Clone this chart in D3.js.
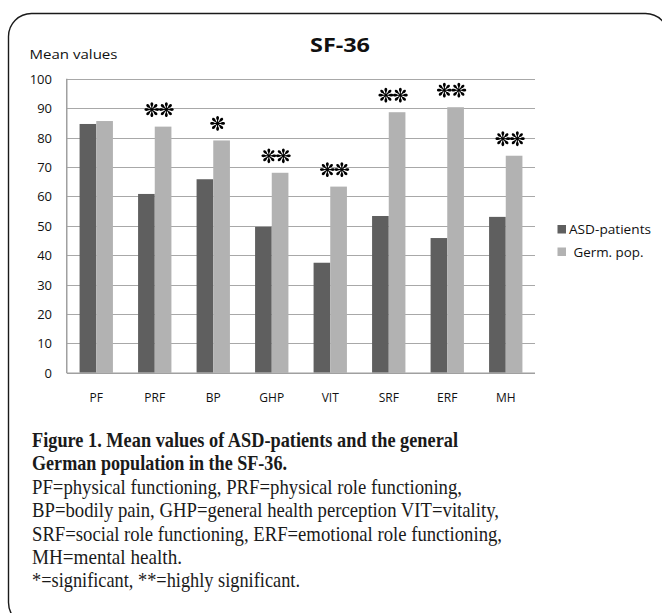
<!DOCTYPE html>
<html>
<head>
<meta charset="utf-8">
<script src="https://cdn.jsdelivr.net/npm/d3@7"></script>
<style>
  body { margin: 0; background: #fff; }
  svg { display: block; }
</style>
</head>
<body>
<svg id="chart" width="662" height="613"></svg>
<script>
// SF-36 subscales and mean scores
const categories = ["PF", "PRF", "BP", "GHP", "VIT", "SRF", "ERF", "MH"];
const asdPatients = [84.6, 60.8, 65.8, 49.6, 37.4, 53.3, 45.8, 53.0];
const germanPopulation = [85.6, 83.7, 79.0, 68.0, 63.3, 88.6, 90.3, 73.8];
// number of asterisks: 1 = significant, 2 = highly significant
const significance = [0, 2, 1, 2, 2, 2, 2, 2];
const seriesNames = ["ASD-patients", "Germ. pop."];
const yTicks = [0, 10, 20, 30, 40, 50, 60, 70, 80, 90, 100];

const captionBold = [
  "Figure 1. Mean values of ASD-patients and the general",
  "German population in the SF-36."
];
const captionBody = [
  "PF=physical functioning, PRF=physical role functioning,",
  "BP=bodily pain, GHP=general health perception VIT=vitality,",
  "SRF=social role functioning, ERF=emotional role functioning,",
  "MH=mental health.",
  "*=significant, **=highly significant."
];

const svg = d3.select("#chart");
const colors = ["#5f5f5f", "#b2b2b2"];
const sans = "'Open Sans', sans-serif";

// rounded frame around the figure
svg.append("rect")
  .attr("x", 8.5).attr("y", 13.5)
  .attr("width", 660).attr("height", 612)
  .attr("rx", 23).attr("ry", 23)
  .attr("fill", "none")
  .attr("stroke", "#1a1a1a")
  .attr("stroke-width", 1.4);

// plot area
const plot = { left: 67, right: 535, top: 78.7, bottom: 372.7 };

const x = d3.scaleBand()
  .domain(categories)
  .range([plot.left, plot.right])
  .paddingInner(0.43)
  .paddingOuter(0.215);

const xSub = d3.scaleBand()
  .domain(d3.range(seriesNames.length))
  .range([0, x.bandwidth()]);

const y = d3.scaleLinear()
  .domain([0, 100])
  .range([plot.bottom, plot.top]);

// horizontal gridlines
svg.append("g")
  .selectAll("line")
  .data(yTicks.filter(d => d > 0))
  .join("line")
  .attr("x1", plot.left).attr("x2", plot.right)
  .attr("y1", d => Math.round(y(d)) + 0.5)
  .attr("y2", d => Math.round(y(d)) + 0.5)
  .attr("stroke", "#a8a8a8")
  .attr("stroke-width", 1.2);

// y axis labels
const yAxis = d3.axisLeft(y).tickValues(yTicks).tickSize(0).tickPadding(0);
const yg = svg.append("g")
  .attr("transform", `translate(${plot.left - 15},0)`)
  .call(yAxis);
yg.select(".domain").remove();
yg.selectAll("text")
  .attr("font-family", sans)
  .attr("font-size", 13)
  .attr("fill", "#111")
  .attr("dy", "0.35em");

// bars
const rows = categories.map((c, i) => ({
  cat: c,
  values: [asdPatients[i], germanPopulation[i]],
  sig: significance[i]
}));

const groups = svg.append("g")
  .selectAll("g")
  .data(rows)
  .join("g")
  .attr("transform", d => `translate(${x(d.cat)},0)`);

groups.selectAll("rect")
  .data(d => d.values.map((v, k) => ({ v, k })))
  .join("rect")
  .attr("x", d => xSub(d.k))
  .attr("y", d => y(d.v))
  .attr("width", xSub.bandwidth())
  .attr("height", d => y(0) - y(d.v))
  .attr("fill", d => colors[d.k]);

// axis lines
svg.append("line")
  .attr("x1", plot.left).attr("x2", plot.right)
  .attr("y1", plot.bottom + 0.5).attr("y2", plot.bottom + 0.5)
  .attr("stroke", "#a0a0a0").attr("stroke-width", 1.5);
svg.append("line")
  .attr("x1", plot.left - 0.25).attr("x2", plot.left - 0.25)
  .attr("y1", plot.top).attr("y2", plot.bottom + 0.5)
  .attr("stroke", "#a0a0a0").attr("stroke-width", 1.5);

// category labels
const xAxis = d3.axisBottom(x).tickSize(0).tickPadding(0);
const xg = svg.append("g")
  .attr("transform", `translate(0,${plot.bottom + 29})`)
  .call(xAxis);
xg.select(".domain").remove();
xg.selectAll("text")
  .attr("font-family", sans)
  .attr("font-size", 12)
  .attr("fill", "#111")
  .attr("dy", 0);

// teardrop-spoked asterisk used for significance marks
function asterisk(g, cx, cy, r) {
  const s = g.append("g").attr("transform", `translate(${cx},${cy})`);
  for (let a = 0; a < 8; a++) {
    const ang = a * 45;
    const spoke = s.append("g").attr("transform", `rotate(${ang})`);
    spoke.append("line")
      .attr("x1", 0).attr("y1", 0).attr("x2", 0).attr("y2", -r * 0.6)
      .attr("stroke", "#000").attr("stroke-width", 1.1);
    spoke.append("path")
      .attr("d", `M0,${-r * 0.35} C${r * 0.28},${-r * 0.6} ${r * 0.22},${-r} 0,${-r} C${-r * 0.22},${-r} ${-r * 0.28},${-r * 0.6} 0,${-r * 0.35}Z`)
      .attr("fill", "#000");
  }
}

const marks = svg.append("g");
rows.forEach(d => {
  if (!d.sig) return;
  const barX = x(d.cat) + xSub(1) + xSub.bandwidth() / 2 - 4;
  const cy = y(d.values[1]) - 17;
  const r = 7.4;
  const step = 14.5;
  for (let k = 0; k < d.sig; k++) {
    const cx = barX + (k - (d.sig - 1) / 2) * step;
    asterisk(marks, cx, cy, r);
  }
});

// title and axis caption
svg.append("text")
  .attr("x", 310).attr("y", 51.5)
  .attr("font-family", sans)
  .attr("font-weight", 700)
  .attr("font-size", 20)
  .attr("textLength", 60)
  .attr("lengthAdjust", "spacingAndGlyphs")
  .attr("fill", "#111")
  .text("SF-36");

svg.append("text")
  .attr("x", 29.5).attr("y", 58.5)
  .attr("font-family", sans)
  .attr("font-size", 13)
  .attr("textLength", 88)
  .attr("lengthAdjust", "spacingAndGlyphs")
  .attr("fill", "#111")
  .text("Mean values");

// legend
const legend = svg.append("g");
const legendRows = [
  { y: 225, textX: 569, width: 82 },
  { y: 247.5, textX: 573.5, width: 70 }
];
seriesNames.forEach((name, i) => {
  const row = legendRows[i];
  legend.append("rect")
    .attr("x", 557.5).attr("y", row.y)
    .attr("width", 8.5).attr("height", 8.5)
    .attr("fill", colors[i]);
  legend.append("text")
    .attr("x", row.textX).attr("y", row.y + 9)
    .attr("font-family", sans)
    .attr("font-size", 12.5)
    .attr("textLength", row.width)
    .attr("lengthAdjust", "spacingAndGlyphs")
    .attr("fill", "#111")
    .text(name);
});

// figure caption
const serif = "'Liberation Serif', 'Times New Roman', serif";
const boldWidths = [426, 255];
const bodyWidths = [430, 467, 470, 150, 268];
captionBold.forEach((line, i) => {
  svg.append("text")
    .attr("x", 32).attr("y", 447 + i * 23.4)
    .attr("font-family", serif)
    .attr("font-weight", 700)
    .attr("font-size", 21.5)
    .attr("textLength", boldWidths[i])
    .attr("lengthAdjust", "spacingAndGlyphs")
    .attr("fill", "#1a1a1a")
    .text(line);
});
captionBody.forEach((line, i) => {
  svg.append("text")
    .attr("x", 32).attr("y", 493.8 + i * 23.4)
    .attr("font-family", serif)
    .attr("font-size", 21.5)
    .attr("textLength", bodyWidths[i])
    .attr("lengthAdjust", "spacingAndGlyphs")
    .attr("fill", "#1a1a1a")
    .text(line);
});
</script>
</body>
</html>
